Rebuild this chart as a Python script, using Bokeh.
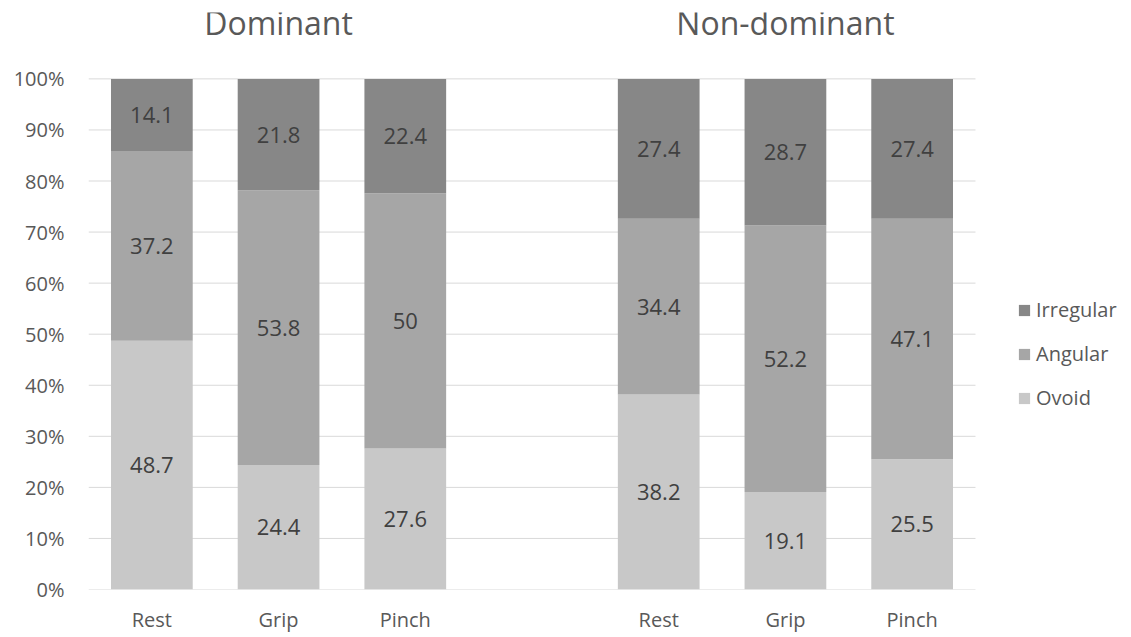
from bokeh.plotting import figure
from bokeh.models import ColumnDataSource, FixedTicker, Legend, LegendItem
from bokeh.embed import file_html
from bokeh.resources import INLINE
from bokeh.core.properties import value
import numpy as np

groups = ["Dominant", "Non-dominant"]
conditions = ["Rest", "Grip", "Pinch"]
ovoid = [48.7, 24.4, 27.6, 38.2, 19.1, 25.5]
angular = [37.2, 53.8, 50.0, 34.4, 52.2, 47.1]
irregular = [14.1, 21.8, 22.4, 27.4, 28.7, 27.4]
y_ticks = [0, 10, 20, 30, 40, 50, 60, 70, 80, 90, 100]

FONT = "Open Sans"
TXT = "#595959"
xs = [0, 1, 2, 4, 5, 6]
x_lo, x_hi = -0.5, 6.5
src = ColumnDataSource(dict(x=xs, Ovoid=ovoid, Angular=angular, Irregular=irregular))

p = figure(width=1123, height=635, output_backend="svg", toolbar_location=None,
           x_range=(x_lo, 7.668), y_range=(0, 113),
           min_border_left=88, min_border_right=0, min_border_top=12, min_border_bottom=40)
p.outline_line_color = None
p.background_fill_color = "white"
p.xgrid.grid_line_color = None
p.ygrid.grid_line_color = None

# horizontal gridlines only over the plot area
p.segment(x0=[x_lo] * len(y_ticks), x1=[x_hi] * len(y_ticks), y0=y_ticks, y1=y_ticks,
          line_color="#d9d9d9", line_width=1)

colors = ["#c8c8c8", "#a6a6a6", "#878787"]
names = ["Ovoid", "Angular", "Irregular"]
rs = p.vbar_stack(names, x="x", width=0.645, color=colors, source=src, line_color=None)

# segment labels
o = np.array(ovoid); a = np.array(angular); i = np.array(irregular)
lx = xs * 3
ly = list(o / 2) + list(o + a / 2) + list(o + a + i / 2)
lt = [f"{v:g}" for v in ovoid + angular + irregular]
p.text(x=lx, y=ly, text=lt, text_align="center", text_baseline="middle",
       text_font=value(FONT), text_font_size="22px", text_color="#404040")

# group titles
p.text(x=[1, 5], y=[111, 111], text=groups, text_align="center", text_baseline="middle",
       text_font=value(FONT), text_font_size="32px", text_color=TXT)

# axes
p.xaxis.ticker = FixedTicker(ticks=xs)
p.xaxis.major_label_overrides = {x: conditions[k % 3] for k, x in enumerate(xs)}
p.xaxis.major_tick_line_color = None
p.xaxis.major_tick_out = 0
p.xaxis.major_tick_in = 0
p.xaxis.minor_tick_line_color = None
p.xaxis.axis_line_color = None
p.xaxis.major_label_text_font = FONT
p.xaxis.major_label_text_font_size = "20px"
p.xaxis.major_label_text_color = TXT
p.xaxis.major_label_standoff = 16

p.yaxis.ticker = FixedTicker(ticks=y_ticks)
p.yaxis.major_label_overrides = {t: f"{t}%" for t in y_ticks}
p.yaxis.axis_line_color = None
p.yaxis.major_tick_line_color = None
p.yaxis.major_tick_out = 0
p.yaxis.major_tick_in = 0
p.yaxis.minor_tick_line_color = None
p.yaxis.major_label_text_font = FONT
p.yaxis.major_label_text_font_size = "20px"
p.yaxis.major_label_text_color = TXT
p.yaxis.major_label_standoff = 24

legend = Legend(items=[LegendItem(label=n, renderers=[r]) for n, r in zip(names[::-1], rs[::-1])],
                location=(929, 178), orientation="vertical",
                glyph_width=14, glyph_height=14, label_standoff=5, spacing=17, padding=0, margin=0,
                label_text_font=FONT, label_text_font_size="20px", label_text_color=TXT,
                border_line_color=None, background_fill_alpha=0)
p.add_layout(legend, "center")

open("out.html", "w").write(file_html(p, INLINE))
